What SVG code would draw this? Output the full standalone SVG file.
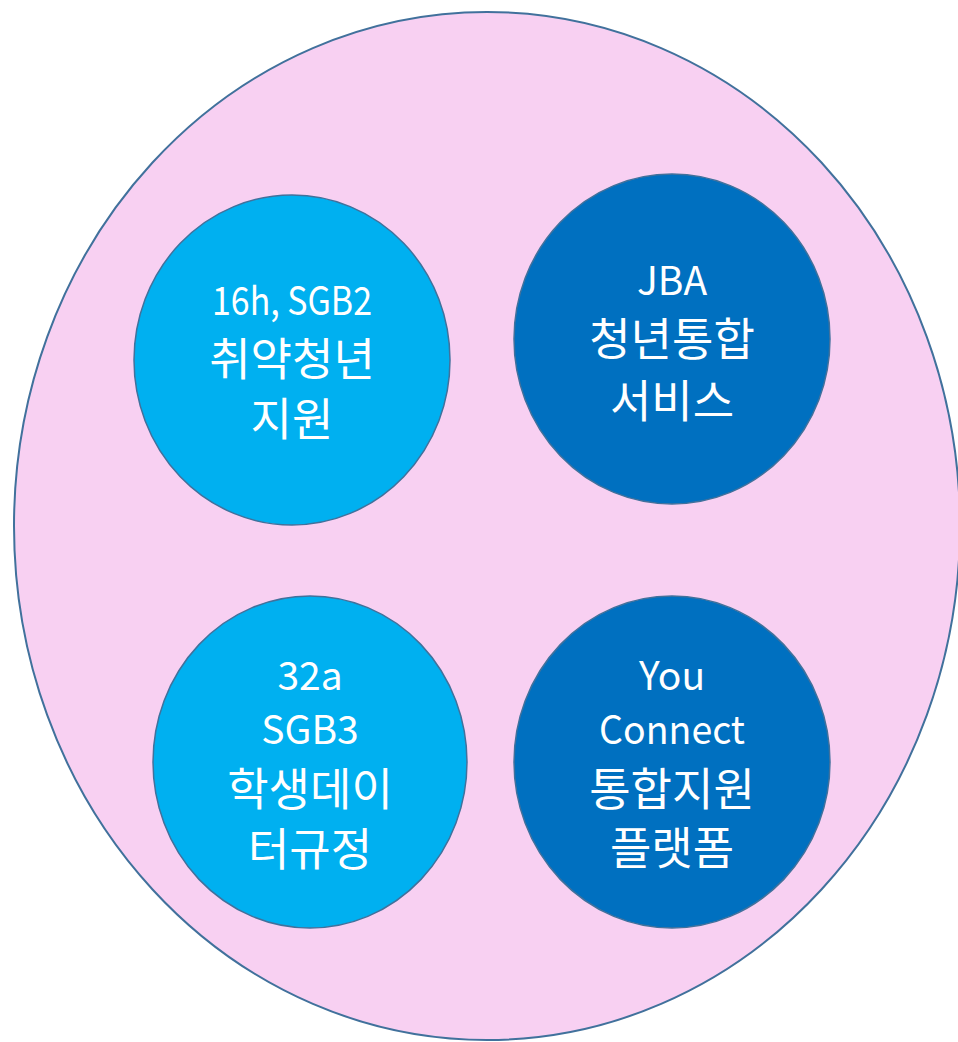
<svg xmlns="http://www.w3.org/2000/svg" width="958" height="1042" viewBox="0 0 958 1042">
<style>
.outer{fill:#F8D0F2;stroke:#41719C;stroke-width:2}
.light{fill:#00B0F0;stroke:#41719C;stroke-width:1.5}
.dark{fill:#0070C0;stroke:#41719C;stroke-width:1.5}
text{fill:#FFFFFF;font-family:"Noto Sans CJK KR","Noto Sans",sans-serif;text-anchor:middle}
.en{font-size:39px}
.ko{font-size:45px}
</style>
<rect width="958" height="1042" fill="#FFFFFF"/>
<g id="container"><ellipse class="outer" cx="487" cy="526" rx="473" ry="514"/></g>
<g id="node-tl">
<ellipse class="light" cx="292" cy="360" rx="158" ry="165"/>
<text class="en" x="292" y="315" textLength="160" lengthAdjust="spacingAndGlyphs">16h, SGB2</text>
<text class="ko" x="292" y="376">취약청년</text>
<text class="ko" x="292" y="436">지원</text>
</g>
<g id="node-tr">
<ellipse class="dark" cx="672" cy="339" rx="158" ry="165"/>
<text class="en" x="672" y="295">JBA</text>
<text class="ko" x="672" y="356">청년통합</text>
<text class="ko" x="672" y="418">서비스</text>
</g>
<g id="node-bl">
<ellipse class="light" cx="310" cy="762" rx="157" ry="166"/>
<text class="en" x="310" y="690">32a</text>
<text class="en" x="310" y="744">SGB3</text>
<text class="ko" x="310" y="806">학생데이</text>
<text class="ko" x="310" y="866">터규정</text>
</g>
<g id="node-br">
<ellipse class="dark" cx="672" cy="762" rx="158" ry="166"/>
<text class="en" x="672" y="690">You</text>
<text class="en" x="672" y="744" textLength="146" lengthAdjust="spacingAndGlyphs">Connect</text>
<text class="ko" x="672" y="806">통합지원</text>
<text class="ko" x="672" y="865">플랫폼</text>
</g>
<g id="connectors"></g>
</svg>
